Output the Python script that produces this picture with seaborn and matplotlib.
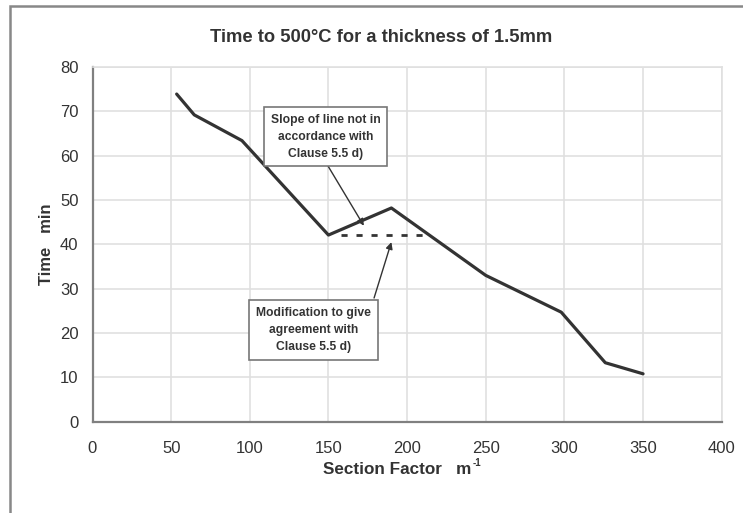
import matplotlib
matplotlib.use("Agg")
import matplotlib.pyplot as plt
import seaborn as sns
import pandas as pd
from matplotlib.patches import Rectangle

section_factor = [53.5, 64.7, 95, 150, 190, 250, 298, 326, 350]
time_min = [73.9, 69.2, 63.4, 42.1, 48.2, 33.0, 24.7, 13.3, 10.8]
mod_x = [158, 215]
mod_y = [42.1, 42.1]
x_ticks = [0, 50, 100, 150, 200, 250, 300, 350, 400]
y_ticks = [0, 10, 20, 30, 40, 50, 60, 70, 80]

sns.set_theme(style="white")
plt.rcParams['font.family'] = ['Liberation Sans', 'DejaVu Sans']

fig = plt.figure(figsize=(7.43, 5.13), dpi=100)
W, H = 743, 513
ax = fig.add_axes([92.5 / W, 1 - 421.7 / H, (721.7 - 92.5) / W, (421.7 - 67) / H])

df = pd.DataFrame({"x": section_factor, "y": time_min})
sns.lineplot(data=df, x="x", y="y", ax=ax, color="#333333", linewidth=2.3,
             sort=False, estimator=None)
ax.plot(mod_x, mod_y, linestyle=(0, (2.2, 3.2)), color="#333333", linewidth=2.0)

ax.set_xlim(0, 400)
ax.set_ylim(0, 80)
ax.set_xticks(x_ticks)
ax.set_yticks(y_ticks)
ax.tick_params(axis="both", direction="in", length=5, width=1.2, color="#808080",
               labelsize=12, labelcolor="#333333", pad=10)
ax.tick_params(axis="x", pad=14)
ax.grid(True, color="#e0e0e0", linewidth=1.2)
for side in ["top", "right"]:
    ax.spines[side].set_visible(True)
    ax.spines[side].set_color("#e0e0e0")
    ax.spines[side].set_linewidth(1.2)
for side in ["left", "bottom"]:
    ax.spines[side].set_color("#808080")
    ax.spines[side].set_linewidth(1.6)

ax.set_xlabel("")
ax.set_ylabel("Time   min", fontsize=12, fontweight="bold", color="#333333", labelpad=4)

xl = fig.text(323 / W, 1 - 469 / H, "Section Factor   m", fontsize=12.3, fontweight="bold",
              color="#333333", ha="left", va="center")
fig.canvas.draw()
bb = xl.get_window_extent(renderer=fig.canvas.get_renderer())
fig.text((bb.x1 + 1) / W, 1 - 463 / H, "-1", fontsize=7, fontweight="bold",
         color="#333333", ha="left", va="center")

fig.text(381 / W, 1 - 38 / H, "Time to 500°C for a thickness of 1.5mm", fontsize=13.2,
         fontweight="bold", color="#333333", ha="center", va="center")

box = dict(boxstyle="square,pad=0.55", fc="white", ec="#777777", lw=1.2)
arrow = dict(arrowstyle="-|>", color="#333333", lw=1.0, mutation_scale=10,
             shrinkA=0, shrinkB=0)
ax.annotate("", xy=(172.5, 44.2), xytext=(149.5, 57.8), arrowprops=arrow)
ax.annotate("", xy=(190, 40.5), xytext=(179, 27.9), arrowprops=arrow)
ax.text(148.4, 64.3, "Slope of line not in\naccordance with\nClause 5.5 d)",
        fontsize=8.7, fontweight="bold", color="#333333", ha="center", va="center",
        bbox=box, linespacing=1.55)
ax.text(140.5, 20.7, "Modification to give\nagreement with\nClause 5.5 d)",
        fontsize=8.7, fontweight="bold", color="#333333", ha="center", va="center",
        bbox=box, linespacing=1.55)

fig.patches.append(Rectangle((10 / W, -0.1), 1.2, 1 - 6 / H + 0.1, transform=fig.transFigure,
                             fill=False, ec="#888888", lw=1.8))

fig.savefig("out.png", dpi=100)
